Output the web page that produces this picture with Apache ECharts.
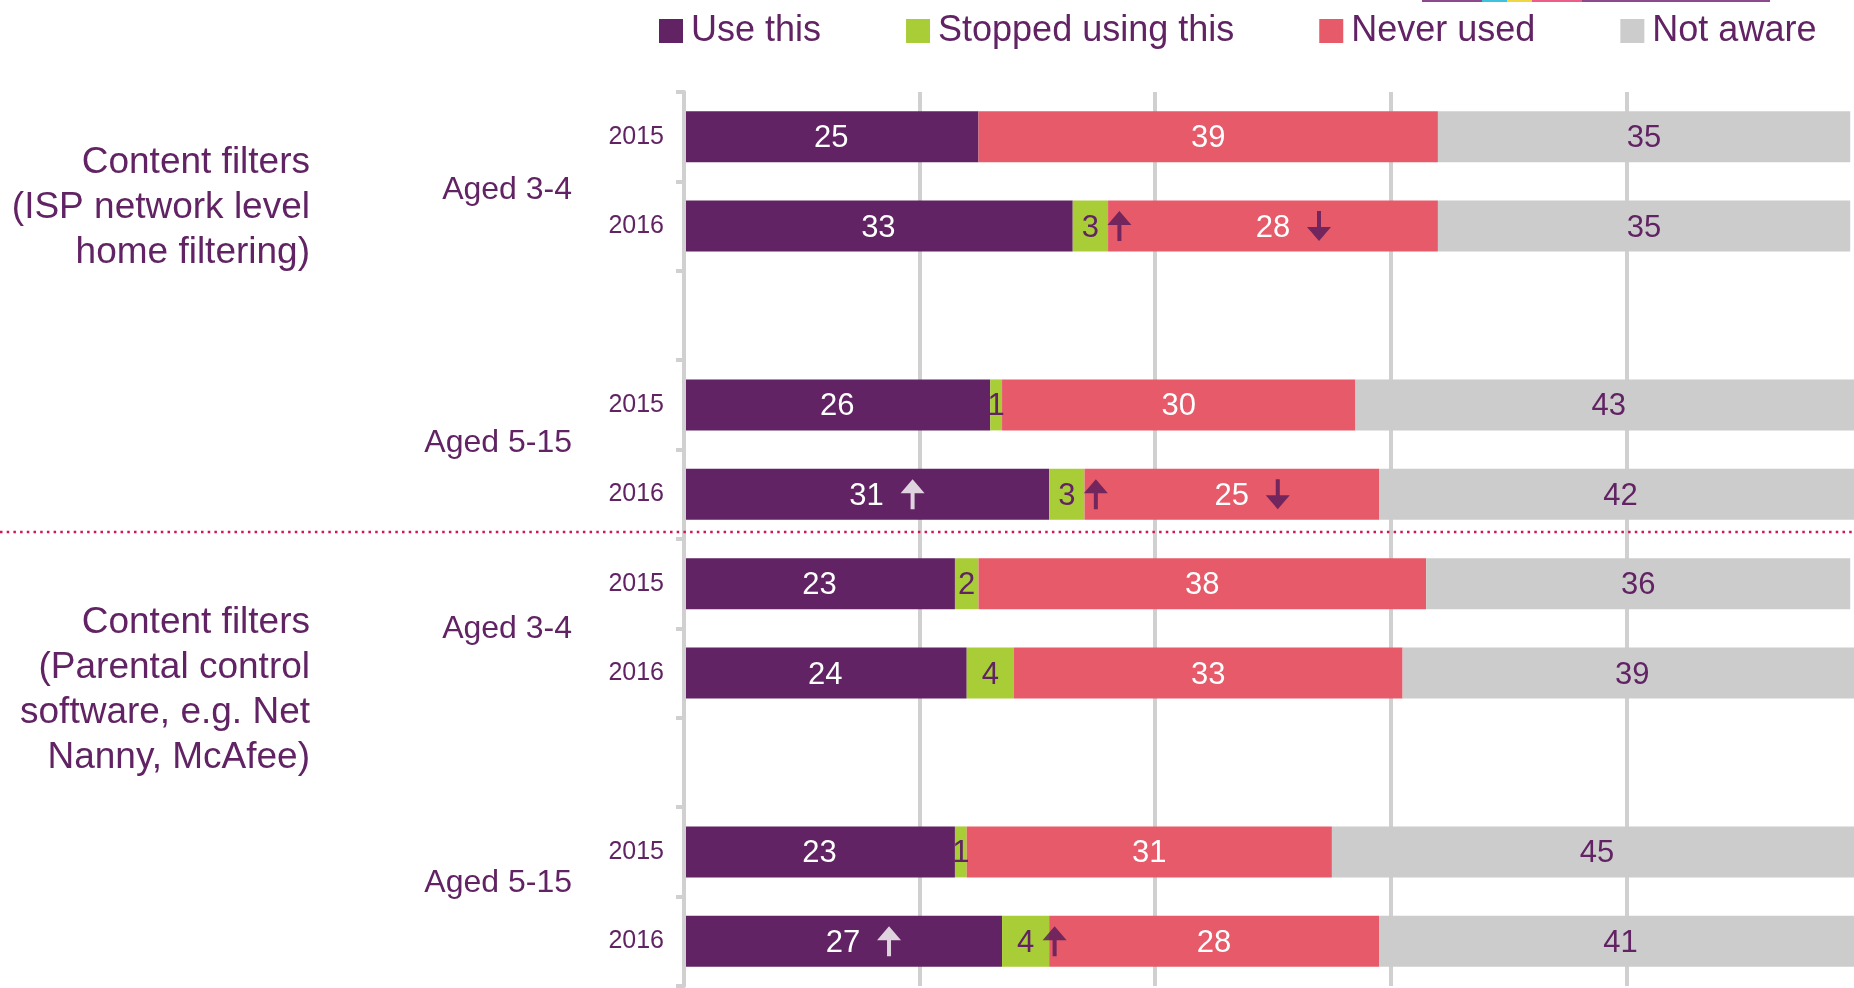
<!DOCTYPE html>
<html>
<head>
<meta charset="utf-8">
<script src="https://cdn.jsdelivr.net/npm/echarts@6/dist/echarts.min.js"></script>
<style>
html,body{margin:0;padding:0;background:#fff;overflow:hidden;width:1854px;height:988px;}
#chart{width:1872px;height:988px;}
</style>
</head>
<body>
<div id="chart"></div>
<script>
// ---- data ----
const rowLabels = ['2015', '2016', '', '2015', '2016', '2015', '2016', '', '2015', '2016'];
const seriesNames = ['Use this', 'Stopped using this', 'Never used', 'Not aware'];
const useThis     = [25, 33, '-', 26, 31, 23, 24, '-', 23, 27];
const stopped     = [0,  3,  '-', 1,  3,  2,  4,  '-', 1,  4];
const neverUsed   = [39, 28, '-', 30, 25, 38, 33, '-', 31, 28];
const notAware    = [35, 35, '-', 43, 42, 36, 39, '-', 45, 41];
const xTicks = [0, 20, 40, 60, 80, 100];
// significance arrows: [row index, series index, direction]
const arrows = [
  [1, 1, 'up'], [1, 2, 'down'],
  [4, 0, 'up'], [4, 1, 'up'], [4, 2, 'down'],
  [9, 0, 'up'], [9, 1, 'up']
];
const groupLabels = ['Content filters\n(ISP network level\nhome filtering)',
                     'Content filters\n(Parental control\nsoftware, e.g. Net\nNanny, McAfee)'];
const ageLabels = ['Aged 3-4', 'Aged 5-15', 'Aged 3-4', 'Aged 5-15'];

// ---- style ----
const PURPLE = '#612363';
const ARROW_PURPLE = '#55195a';
const colors = ['#612363', '#a8cd37', '#e65a69', '#cccccc'];
const labelColors = ['#ffffff', PURPLE, '#ffffff', PURPLE];
const FONT = "'Liberation Sans', Arial, sans-serif";
const allSeries = [useThis, stopped, neverUsed, notAware];

const chart = echarts.init(document.getElementById('chart'));

const barSeries = seriesNames.map((name, si) => ({
  name: name,
  type: 'bar',
  stack: 'total',
  barCategoryGap: '43%',
  data: allSeries[si],
  itemStyle: { color: colors[si] },
  label: {
    show: true,
    position: 'inside',
    color: labelColors[si],
    fontSize: 31,
    fontFamily: FONT,
    offset: [0, 2],
    formatter: p => (p.value === 0 || p.value === '-') ? '' : String(p.value)
  },
  emphasis: { disabled: true },
  z: 2
}));

const ARROW_PATH = 'path://M12,0 L24,14 L14,14 L14,30 L10,30 L10,14 L0,14 Z';
const arrowData = arrows.map(([row, si, dir]) => {
  let start = 0;
  for (let k = 0; k < si; k++) start += allSeries[k][row];
  const v = allSeries[si][row];
  const center = start + v / 2;
  const digits = String(v).length;
  return {
    value: [center, row],
    symbolOffset: [digits * 17 + 12, 0],
    symbolRotate: dir === 'up' ? 0 : 180,
    itemStyle: { color: si === 0 ? '#ffffff' : ARROW_PURPLE }
  };
});

const stripe = [
  ['#8b4a8e', 1422, 60], ['#3cc3e0', 1482, 25], ['#f0d640', 1507, 25],
  ['#ee5d8a', 1532, 50], ['#8b4a8e', 1582, 188]
];

const graphics = [
  { type: 'line', shape: { x1: 0, y1: 532, x2: 1872, y2: 532 },
    style: { stroke: '#d4145a', lineWidth: 2.5, lineDash: [2.5, 4.2] }, z: 10 },
  { type: 'text', x: 310, y: 140, style: { text: groupLabels[0], fill: PURPLE, font: '37px ' + FONT, textAlign: 'right', textVerticalAlign: 'top', lineHeight: 45 } },
  { type: 'text', x: 310, y: 600, style: { text: groupLabels[1], fill: PURPLE, font: '37px ' + FONT, textAlign: 'right', textVerticalAlign: 'top', lineHeight: 45 } },
  { type: 'text', x: 572, y: 190, style: { text: ageLabels[0], fill: PURPLE, font: '32px ' + FONT, textAlign: 'right', textVerticalAlign: 'middle' } },
  { type: 'text', x: 572, y: 443, style: { text: ageLabels[1], fill: PURPLE, font: '32px ' + FONT, textAlign: 'right', textVerticalAlign: 'middle' } },
  { type: 'text', x: 572, y: 629, style: { text: ageLabels[2], fill: PURPLE, font: '32px ' + FONT, textAlign: 'right', textVerticalAlign: 'middle' } },
  { type: 'text', x: 572, y: 883, style: { text: ageLabels[3], fill: PURPLE, font: '32px ' + FONT, textAlign: 'right', textVerticalAlign: 'middle' } }
].concat(stripe.map(([c, x, w]) => ({ type: 'rect', shape: { x: x, y: 0, width: w, height: 2 }, style: { fill: c }, silent: true })));

chart.setOption({
  animation: false,
  backgroundColor: '#ffffff',
  textStyle: { fontFamily: FONT },
  legend: {
    data: seriesNames,
    left: 654,
    top: 8,
    icon: 'rect',
    itemWidth: 24,
    itemHeight: 24,
    itemGap: 85,
    textStyle: { color: PURPLE, fontSize: 36, fontFamily: FONT, padding: [0, 0, 0, 3] },
    selectedMode: false
  },
  grid: { left: 684, right: 10, top: 92, bottom: 2, containLabel: false },
  xAxis: {
    type: 'value',
    min: xTicks[0],
    max: xTicks[xTicks.length - 1],
    interval: xTicks[1] - xTicks[0],
    axisLine: { show: false },
    axisTick: { show: false },
    axisLabel: { show: false },
    splitLine: { show: true, lineStyle: { color: '#d0d0d0', width: 4 } }
  },
  yAxis: {
    type: 'category',
    inverse: true,
    data: rowLabels,
    axisLine: { show: true, lineStyle: { color: '#d0d0d0', width: 4 } },
    axisTick: { show: true, length: 8, lineStyle: { color: '#d0d0d0', width: 4 } },
    axisLabel: { color: PURPLE, fontSize: 25, fontFamily: FONT, margin: 20 },
    z: 5
  },
  series: barSeries.concat([{
    type: 'scatter',
    data: arrowData,
    symbol: ARROW_PATH,
    symbolSize: [24, 30],
    silent: true,
    z: 6
  }]),
  graphic: graphics
});
</script>
</body>
</html>
